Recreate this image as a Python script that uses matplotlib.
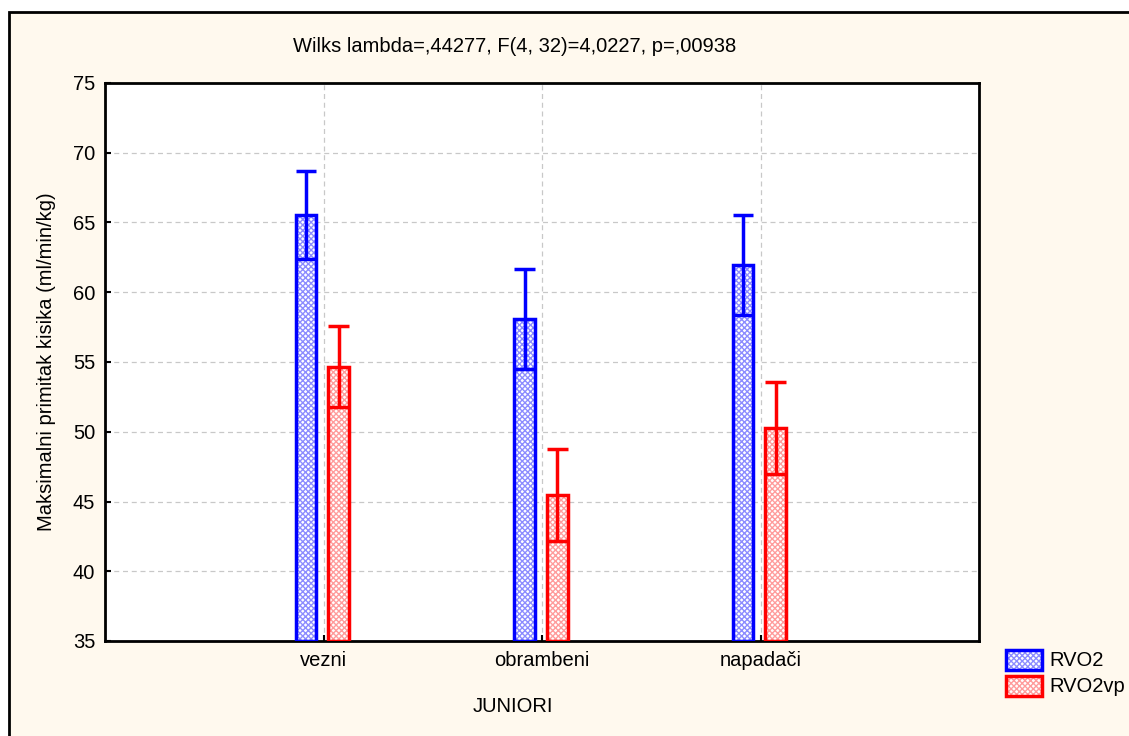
import numpy as np
import matplotlib.pyplot as plt
from matplotlib.patches import Rectangle

plt.rcParams['font.family'] = ['Liberation Sans', 'DejaVu Sans']

# ------------------------------------------------------------
# Data
# ------------------------------------------------------------
groups = ['vezni', 'obrambeni', 'napadači']
rvo2 = [65.55, 58.10, 61.95]
rvo2_err = [3.15, 3.60, 3.60]
rvo2vp = [54.65, 45.45, 50.30]
rvo2vp_err = [2.90, 3.30, 3.30]
series_names = ['RVO2', 'RVO2vp']
title = 'Wilks lambda=,44277, F(4, 32)=4,0227, p=,00938'

W, H = 1129, 736
FS = 14.5
fig = plt.figure(figsize=(W / 100, H / 100), dpi=100, facecolor='white')

# cream background with black frame
fig.patches.append(Rectangle((9 / W, -0.01), 1.02, 1 - 12 / H + 0.01,
                             transform=fig.transFigure, facecolor='#fff9ee',
                             edgecolor='black', linewidth=2, zorder=-10))

ax = fig.add_axes([105 / W, 1 - 641 / H, (979 - 105) / W, (641 - 83) / H])
ax.set_facecolor('white')

x = np.arange(1, len(groups) + 1)
bw = 0.095
styles = [(-0.08, 'blue', '#8c8cff'), (0.07, 'red', '#ff9c9c')]
base = 35
for (vals, errs), (off, col, hcol) in zip([(rvo2, rvo2_err), (rvo2vp, rvo2vp_err)], styles):
    pos = x + off
    heights = np.array(vals) - base
    ax.bar(pos, heights, bw, bottom=base, facecolor='white', edgecolor=hcol,
           hatch='xxxxxx', linewidth=0, zorder=2)
    ax.bar(pos, heights, bw, bottom=base, fill=False, edgecolor=col,
           linewidth=2.5, zorder=3)
    lo = np.array(vals) - np.array(errs)
    hi = np.array(vals) + np.array(errs)
    ax.vlines(pos, lo, hi, color=col, linewidth=2.5, zorder=4)
    ax.hlines(hi, pos - bw / 2, pos + bw / 2, color=col, linewidth=2.5, zorder=4)
    ax.hlines(lo, pos - bw / 2, pos + bw / 2, color=col, linewidth=2.5, zorder=4)

ax.set_xlim(0, 4)
ax.set_ylim(35, 75)
ax.set_xticks(x)
ax.set_xticklabels(groups)
ax.set_yticks(np.arange(35, 76, 5))
ax.tick_params(direction='in', length=4, width=1.5, labelsize=FS, pad=7)
ax.grid(True, color='#c8c8c8', linestyle=(0, (4, 3)), linewidth=0.9, zorder=1)
ax.set_axisbelow(True)
for s in ax.spines.values():
    s.set_linewidth(2)

fig.text(515 / W, 1 - 47 / H, title, ha='center', va='center', fontsize=FS)
fig.text(47 / W, 1 - 362 / H, 'Maksimalni primitak kisika (ml/min/kg)',
         rotation=90, ha='center', va='center', fontsize=FS)
fig.text(513 / W, 1 - 706 / H, 'JUNIORI', ha='center', va='center', fontsize=FS)

# legend drawn manually (hatched boxes + labels)
for i, (name, (off, col, hcol)) in enumerate(zip(series_names, styles)):
    y0 = 1 - (670 + i * 26) / H
    box = dict(transform=fig.transFigure, zorder=5)
    fig.patches.append(Rectangle((1006 / W, y0), 36 / W, 20 / H, facecolor='white',
                                 edgecolor=hcol, hatch='xxxxxx', linewidth=0, **box))
    fig.patches.append(Rectangle((1006 / W, y0), 36 / W, 20 / H, fill=False,
                                 edgecolor=col, linewidth=2.5, **box))
    fig.text(1049 / W, y0 + 10 / H, name, ha='left', va='center', fontsize=FS)

fig.savefig('out.png', dpi=100)
